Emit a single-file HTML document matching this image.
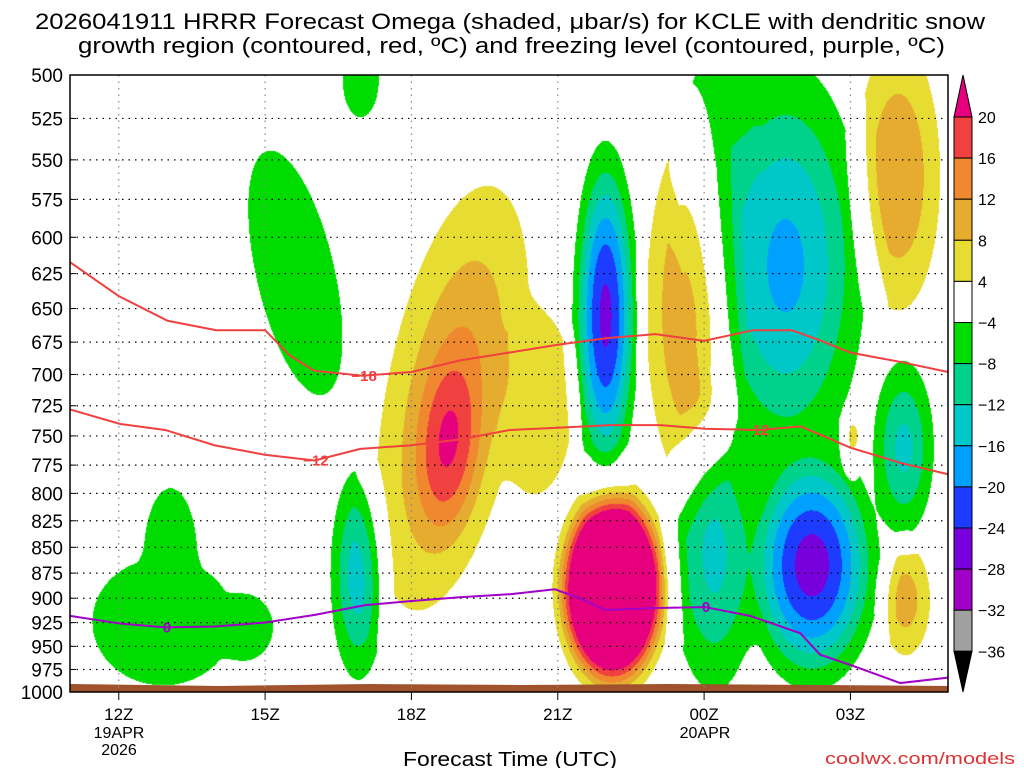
<!DOCTYPE html>
<html><head><meta charset="utf-8">
<style>
body{margin:0;background:#fff;width:1024px;height:768px;overflow:hidden;font-family:"Liberation Sans",sans-serif}
#wrap{position:relative;width:1024px;height:768px}
#field{position:absolute;left:70px;top:75px}
#ov{position:absolute;left:0;top:0}
</style></head><body>
<div id="wrap">
<canvas id="field" width="878" height="617"></canvas>
<svg id="ov" width="1024" height="768" xmlns="http://www.w3.org/2000/svg"></svg>
</div>
<script>
// ---- data ----
const tickTimes=[1,4,7,10,13,16];
const tickLabels=["12Z","15Z","18Z","21Z","00Z","03Z"];
const presLevels=[500,525,550,575,600,625,650,675,700,725,750,775,800,825,850,875,900,925,950,975,1000];
// omega blobs (time in hours from 11Z, pressures in hPa, amplitude in microbar/s)
const blobTime =[7.83,7.75,11.11,9.5,12.71,16.97,16.01,17.12, 4.61,5.95,1.9,3.55,5.9,10.97,14.66,15.2,13.2,13.3,17.08,2.05];
const blobPTop =[566,666,784,650,535,481,724,848, 544,481,860,895,779,538,492,753,737,481,689,795];
const blobPBot =[912,862,1009,800,792,651,784,959, 716,524,992,965,986,797,779,998,998,700,838,930];
const blobHalfW=[1.39,0.82,1.23,0.8,0.9,0.86,0.2,0.5, 0.82,0.37,1.45,0.6,0.57,0.68,1.64,1.4,0.9,0.82,0.62,0.55];
const blobAmp  =[13,17,55,7,13,12,7,10, -7.5,-6,-6.5,-5.5,-14,-25,-17,-26,-13,-7,-13,-5.5];
const blobSkew =[0.72,0.16,0,0,0,0,0,0, -0.51,0,0,0,0,0,0,0,0,0,0,0];
// isotherms
const m18T=[0,1,2,3,4,4.5,5,6,7,8,9,10,11,12,13,14,14.8,15.4,16,17,18];
const m18P=[617,641,659,666,666,685,697,701,698,689,683,677,672,669,674,666,666,674,683,690,698];
const m12T=[0,1.03,1.95,2.97,3.99,5.02,5.95,6.97,7.99,9.02,10.05,11.07,12.1,13.02,14.15,14.97,15.38,16.0,17.02,18];
const m12P=[728,740,745,758,766,771,761,758,753,745,743,741,741,744,745,742,749,760,773,783];
const z0T=[0,1.03,1.95,2.97,3.99,5.02,6.05,6.97,7.99,9.02,9.94,10.45,10.97,11.99,13.02,13.94,14.97,15.38,16,17.02,18];
const z0P=[918,926,930,929,925,917,907,903,899,896,891,900,912,910,909,918,936,959,970,990,984];
const cbLevels=[20,16,12,8,4,-4,-8,-12,-16,-20,-24,-28,-32,-36];
const cbColors=["#e6007e","#f04040","#f08830","#e5ac30","#e6dc32","#ffffff","#00dc00","#00d28c","#00c8c8","#00a0ff","#1e3cff","#7800dc","#a000c8","#a0a0a0","#000000"];

// ---- scales ----
const L=70,R=948,T=75,B=692;
const xOf=t=>L+t*(R-L)/18;
const yOf=p=>T+(B-T)*Math.log(p/500)/Math.LN2;

function hex(c){return [parseInt(c.substr(1,2),16),parseInt(c.substr(3,2),16),parseInt(c.substr(5,2),16)];}
const rgb=cbColors.map(hex);
(function(){
  const cv=document.getElementById('field');const ctx=cv.getContext('2d');
  const W=cv.width,H=cv.height;const img=ctx.createImageData(W,H);
  const bl=blobTime.map((t,i)=>{const y1=yOf(blobPTop[i]),y2=yOf(blobPBot[i]);
    return{xc:xOf(t),yc:(y1+y2)/2,ry:(y2-y1)/2,rx:blobHalfW[i]*(R-L)/18,sk:blobSkew[i]*(R-L)/18,a:blobAmp[i]};});
  for(let py=0;py<H;py++){const y=py+T;
    for(let px=0;px<W;px++){const x=px+L;let pos=0,neg=0;
      for(const b of bl){const dy=(y-b.yc)/b.ry;if(dy>1.4||dy<-1.4)continue;
        const dx=(x-b.xc-b.sk*(b.yc-y)/b.ry)/b.rx;const d2=dx*dx+dy*dy;
        const A=Math.abs(b.a);let m;
        if(d2<=1){m=4+(A-4)*Math.pow(1-d2,1.5);}
        else{const d=Math.sqrt(d2);m=4*Math.max(0,1-(d-1)/0.3);}
        if(b.a>0)pos+=m*m;else neg+=m*m;
      }
      const v=Math.sqrt(pos)-Math.sqrt(neg);
      let ci;
      if(v>=20)ci=0;else if(v<-36)ci=14;else{ci=5;for(let i=0;i<13;i++){if(v>=cbLevels[i+1]&&v<cbLevels[i]){ci=i+1;break;}}}
      const c=rgb[ci];const k=(py*W+px)*4;img.data[k]=c[0];img.data[k+1]=c[1];img.data[k+2]=c[2];img.data[k+3]=255;
    }}
  ctx.putImageData(img,0,0);
})();

// ---- overlay ----
const NS="http://www.w3.org/2000/svg";const svg=document.getElementById('ov');
function mk(tag,attrs,parent){const e=document.createElementNS(NS,tag);for(const k in attrs)e.setAttribute(k,attrs[k]);(parent||svg).appendChild(e);return e;}
function txt(s,attrs){const e=mk('text',attrs);e.textContent=s;return e;}

const g=mk('path',{d:`M${L} 684 L${L+150} 686 L${L+300} 684 L${L+450} 685 L${L+600} 684 L${L+750} 685 L${R} 686 L${R} ${B} L${L} ${B} Z`,fill:'#a0522d'});



presLevels.forEach(p=>{if(p===500||p===1000)return;
  const l=mk('line',{x1:L,x2:R,y1:yOf(p),y2:yOf(p),stroke:'#000','stroke-width':1.2,'stroke-dasharray':'1.5 5'});
  
  
  const tk=mk('line',{x1:L,x2:L+6,y1:yOf(p),y2:yOf(p),stroke:'#000'});
  
  
});
tickTimes.forEach((t,i)=>{
  const l=mk('line',{x1:xOf(t),x2:xOf(t),y1:T,y2:B,stroke:'#888','stroke-width':1.2,'stroke-dasharray':'1.5 5'});
  
  
  const tk=mk('line',{x1:xOf(t),x2:xOf(t),y1:B,y2:B+8,stroke:'#000'});
  
  
  const lb=txt(tickLabels[i],{x:xOf(t),y:720,'font-size':17,'text-anchor':'middle',fill:'#000'});
  
  
});
function line(ts,ps,color,name){
  const pl=mk('polyline',{points:ts.map((t,i)=>xOf(t)+','+yOf(ps[i])).join(' '),fill:'none',stroke:color,'stroke-width':2});
  
  
}
line(m18T,m18P,'#f04040','isotherm-minus18');
line(m12T,m12P,'#f04040','isotherm-minus12');
line(z0T,z0P,'#a000c8','freezing-level-line');
function clab(s,t,p,color){
  const e=txt(s,{x:xOf(t),y:yOf(p)+5,'font-size':15,'font-weight':'bold','text-anchor':'middle',fill:color});
  
  
}
clab('\u221218',6.03,701,'#f04040');clab('\u221212',5.04,771,'#f04040');clab('\u221212',14.08,745,'#f04040');
clab('0',1.99,930,'#a000c8');clab('0',13.04,909,'#a000c8');

const fr=mk('rect',{x:L,y:T,width:R-L,height:B-T,fill:'none',stroke:'#000','stroke-width':1.5});



presLevels.forEach(p=>{
  const e=txt(String(p),{x:63,y:yOf(p)+7,'font-size':19,'text-anchor':'end',fill:'#000'});
  
  
});

const cx1=954,cx2=972,cTop=117,step=41.1;
const tri=mk('polygon',{points:`${cx1},${cTop} ${cx2},${cTop} ${(cx1+cx2)/2},75`,fill:cbColors[0],stroke:'#000'});


for(let i=0;i<13;i++){
  const r=mk('rect',{x:cx1,y:cTop+i*step,width:cx2-cx1,height:step,fill:cbColors[i+1],stroke:'#000'});
  
  
}
const triB=mk('polygon',{points:`${cx1},${cTop+13*step} ${cx2},${cTop+13*step} ${(cx1+cx2)/2},692`,fill:'#000',stroke:'#000'});


cbLevels.forEach((v,i)=>{
  const e=txt((v<0?'\u2212':'')+Math.abs(v),{x:978,y:cTop+i*step+6,'font-size':16,fill:'#000'});
  
  
});
</script>
<svg width="1024" height="768" style="position:absolute;left:0;top:0;pointer-events:none" xmlns="http://www.w3.org/2000/svg">
<text x="35" y="29" font-size="22" textLength="950" lengthAdjust="spacingAndGlyphs" font-family="Liberation Sans">2026041911 HRRR Forecast Omega (shaded, μbar/s) for KCLE with dendritic snow</text>
<text x="78" y="53" font-size="22" textLength="867" lengthAdjust="spacingAndGlyphs" font-family="Liberation Sans">growth region (contoured, red, ºC) and freezing level (contoured, purple, ºC)</text>
<text x="119" y="738" font-size="16" text-anchor="middle" font-family="Liberation Sans">19APR</text>
<text x="119" y="755" font-size="16" text-anchor="middle" font-family="Liberation Sans">2026</text>
<text x="705" y="738" font-size="16" text-anchor="middle" font-family="Liberation Sans">20APR</text>
<text x="403" y="766" font-size="20" textLength="214" lengthAdjust="spacingAndGlyphs" font-family="Liberation Sans">Forecast Time (UTC)</text>
<text x="825" y="764" font-size="17" textLength="190" lengthAdjust="spacingAndGlyphs" fill="#e03030" font-family="Liberation Sans">coolwx.com/models</text>
</svg>
</body></html>
